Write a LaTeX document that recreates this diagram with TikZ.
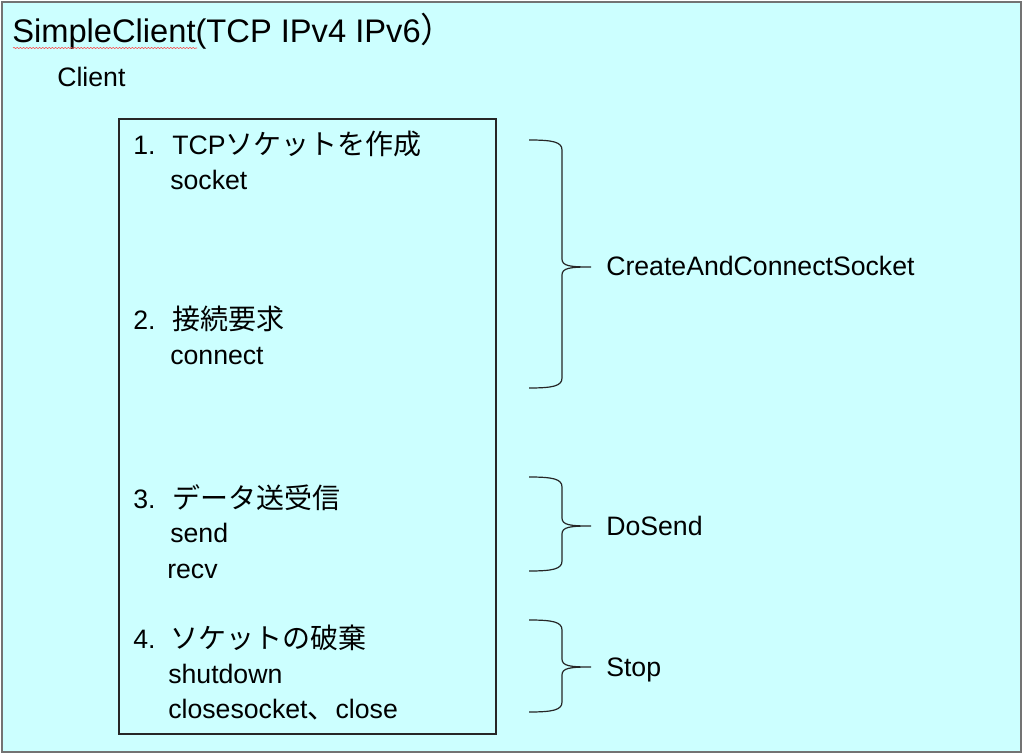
\documentclass[tikz,border=0pt]{standalone}
\usepackage{fontspec}
\setmainfont{Liberation Sans}
\newfontfamily\jp[Scale=1.05]{Noto Sans CJK JP}
\usetikzlibrary{decorations.pathmorphing}
\definecolor{bgcyan}{HTML}{CCFFFF}
\tikzset{
  lbl/.style={anchor=base west, inner sep=0pt, font=\fontsize{20pt}{24pt}\selectfont},
  ttl/.style={anchor=base west, inner sep=0pt, font=\fontsize{24.5pt}{28pt}\selectfont},
  brc/.style={line width=0.9pt, draw=black!85},
  outerframe/.style={draw=black!55, line width=1.5pt, fill=bgcyan},
  stepsbox/.style={draw=black!85, line width=0.9pt},
  squiggle/.style={draw=red!75, line width=0.4pt, decorate, decoration={snake, amplitude=0.45pt, segment length=2.4pt}},
}
\newcommand{\curlybrace}[4]{% name, top y, mid y, bottom y
  \coordinate (#1t) at (529,#2);
  \coordinate (#1m) at (591,#3);
  \coordinate (#1b) at (529,#4);
  \draw[brc] (#1t) .. controls (553,#2) and (562,#2+2) .. (562,#2+10)
    -- (562,#3-8) .. controls (562,#3-1) and (570,#3) .. (#1m)
    .. controls (570,#3) and (562,#3+1) .. (562,#3+8)
    -- (562,#4-10) .. controls (562,#4-2) and (553,#4) .. (#1b);
}
\begin{document}
\begin{tikzpicture}[x=0.75pt,y=-0.75pt]
\useasboundingbox (0,0) rectangle (1024,755);
\draw[outerframe] (2,2) rectangle (1021,752);

\node[ttl] (title) at (12,43) {SimpleClient(TCP IPv4 IPv6{\jp ）}};
\draw[squiggle] (13,48) -- (197,48);
\node[lbl] (client) at (57,87) {Client};

\draw[stepsbox] (119,119) rectangle (496,734);

\node[lbl] (n1) at (133,155) {1.};
\node[lbl] (h1) at (172,155) {TCP{\jp ソケットを作成}};
\node[lbl] (socket) at (170,190) {socket};

\node[lbl] (n2) at (133,330) {2.};
\node[lbl] (h2) at (172,330) {\jp 接続要求};
\node[lbl] (connect) at (170,365) {connect};

\node[lbl] (n3) at (133,508) {3.};
\node[lbl] (h3) at (172,508) {\jp データ送受信};
\node[lbl] (send) at (170,542) {send};
\node[lbl] (recv) at (167,578) {recv};

\node[lbl] (n4) at (133,648) {4.};
\node[lbl] (h4) at (170,648) {\jp ソケットの破棄};
\node[lbl] (shutdown) at (168,683) {shutdown};
\node[lbl] (close) at (168,718) {closesocket{\jp 、}close};

\curlybrace{b1}{140}{267}{388}
\curlybrace{b2}{477}{526}{571}
\curlybrace{b3}{620}{667}{712}

\node[lbl] (l1) at (606,276) {CreateAndConnectSocket};
\node[lbl] (l2) at (606,535) {DoSend};
\node[lbl] (l3) at (606,676) {Stop};
\end{tikzpicture}
\end{document}
